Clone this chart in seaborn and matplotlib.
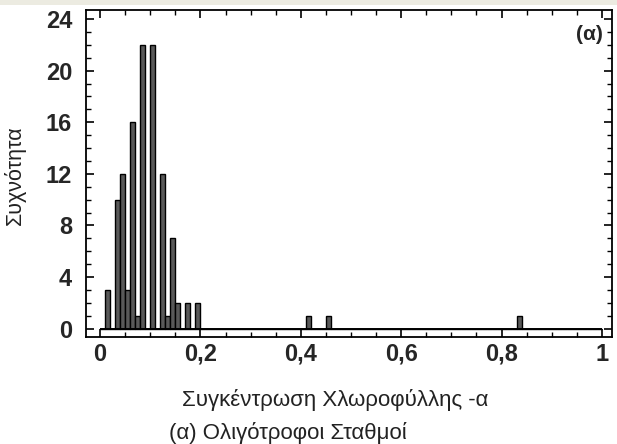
import numpy as np
import pandas as pd
import matplotlib
matplotlib.use("Agg")
import matplotlib.pyplot as plt
import seaborn as sns
from matplotlib.ticker import MultipleLocator, FixedLocator, FixedFormatter

# Histogram data (bin left edges, width 0.01) and frequencies
bin_left = [0.01, 0.03, 0.04, 0.05, 0.06, 0.07, 0.08, 0.10, 0.12, 0.13, 0.14, 0.15,
            0.17, 0.19, 0.41, 0.45, 0.83]
counts = [3, 10, 12, 3, 16, 1, 22, 22, 12, 1, 7, 2, 2, 2, 1, 1, 1]
bin_width = 0.01
bin_range = (0, 1)

x_ticks = [0, 0.2, 0.4, 0.6, 0.8, 1.0]
x_tick_labels = ["0", "0,2", "0,4", "0,6", "0,8", "1"]
y_ticks = [0, 4, 8, 12, 16, 20, 24]
y_tick_labels = ["0", "4", "8", "12", "16", "20", "24"]

x_label = "Συγκέντρωση Χλωροφύλλης -α"
y_label = "Συχνότητα"
caption = "(α) Ολιγότροφοι Σταθμοί"
panel = "(α)"

sns.set_style("ticks")
plt.rcParams["font.family"] = ["Liberation Sans", "DejaVu Sans"]

df = pd.DataFrame({"x": [b + bin_width / 2 for b in bin_left], "w": counts})

fig = plt.figure(figsize=(6.17, 4.44), dpi=100)
fig.patch.set_facecolor("white")
ax = fig.add_axes([86 / 617, 1 - 337 / 444, (612 - 86) / 617, (337 - 10) / 444])

sns.histplot(data=df, x="x", weights="w", binwidth=bin_width, binrange=bin_range, ax=ax,
             color="#595959", edgecolor="black", linewidth=1.0, alpha=1.0)
# solid baseline across the histogram range
ax.hlines(0, bin_range[0], bin_range[1], color="black", linewidth=1.4, zorder=3)

ax.set_xlim(-0.028, 1.02)
ax.set_ylim(-0.65, 24.7)

ax.xaxis.set_major_locator(FixedLocator(x_ticks))
ax.xaxis.set_major_formatter(FixedFormatter(x_tick_labels))
ax.xaxis.set_minor_locator(MultipleLocator(0.05))
ax.yaxis.set_major_locator(FixedLocator(y_ticks))
ax.yaxis.set_major_formatter(FixedFormatter(y_tick_labels))
ax.yaxis.set_minor_locator(MultipleLocator(1))

ax.tick_params(which="both", direction="in", top=True, right=True, color="black")
ax.tick_params(which="major", length=6, width=1.2)
ax.tick_params(which="minor", length=3.5, width=1.0)
ax.tick_params(axis="x", which="major", labelsize=17, pad=4)
ax.tick_params(axis="y", which="major", labelsize=17, pad=10)
for lab in ax.get_xticklabels() + ax.get_yticklabels():
    lab.set_fontweight("bold")

for s in ax.spines.values():
    s.set_visible(True)
    s.set_linewidth(1.3)
    s.set_color("black")

ax.set_xlabel(x_label, fontsize=16, color="#222222")
ax.xaxis.set_label_coords(0.473, -0.16)
ax.set_ylabel(y_label, fontsize=15.5, color="#222222")
ax.yaxis.set_label_coords(-0.114, 0.495)

ax.text(0.983, 0.955, panel, transform=ax.transAxes, ha="right", va="top",
        fontsize=15, fontweight="bold")
fig.text(288 / 617, 1 - 433 / 444, caption, ha="center", va="center", fontsize=16,
         color="#222222")

# beige band at the very top
fig.patches.append(plt.Rectangle((0, 1 - 5 / 444), 1, 5 / 444, transform=fig.transFigure,
                                 facecolor="#ecebe1", edgecolor="none", zorder=-1))

fig.savefig("out.png", dpi=100)
